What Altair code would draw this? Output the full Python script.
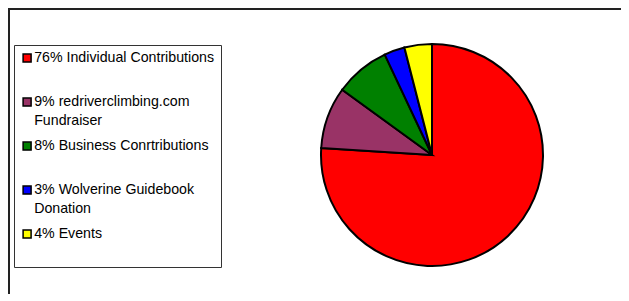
import altair as alt
import pandas as pd

labels = [
    "76% Individual Contributions|",
    "9% redriverclimbing.com|Fundraiser",
    "8% Business Conrtributions|",
    "3% Wolverine Guidebook|Donation",
    "4% Events|",
]
values = [76, 9, 8, 3, 4]
colors = ["#FF0000", "#993366", "#008000", "#0000FF", "#FFFF00"]

df = pd.DataFrame({"label": labels, "value": values, "idx": list(range(len(values)))})

chart = (
    alt.Chart(df)
    .mark_arc(outerRadius=111, stroke="black", strokeWidth=2)
    .encode(
        theta=alt.Theta("value:Q", stack=True),
        order=alt.Order("idx:Q"),
        color=alt.Color(
            "label:N",
            sort=labels,
            scale=alt.Scale(domain=labels, range=colors),
            legend=alt.Legend(
                title=None,
                orient="none",
                legendX=5,
                legendY=36,
                labelExpr="split(datum.label, '|')",
                labelFont="Liberation Sans",
                labelFontSize=14.2,
                labelColor="black",
                symbolType="square",
                symbolSize=64,
                symbolStrokeColor="black",
                symbolStrokeWidth=1.5,
                symbolOpacity=1,
                strokeColor="#333",
                fillColor="white",
                padding=6,
                rowPadding=10,
                labelOffset=0,
                labelLimit=400,
            ),
        ),
        x=alt.value(423),
        y=alt.value(146),
    )
    .properties(
        width=642,
        height=315,
        padding={"left": 1, "top": 1, "right": -30, "bottom": -30},
        autosize="none",
    )
    .configure(background="white", style={"guide-label": {"lineHeight": 19}})
    .configure_view(stroke="#222", strokeWidth=2)
)

chart.save("out.html", embed_options={"renderer": "svg", "actions": False})
